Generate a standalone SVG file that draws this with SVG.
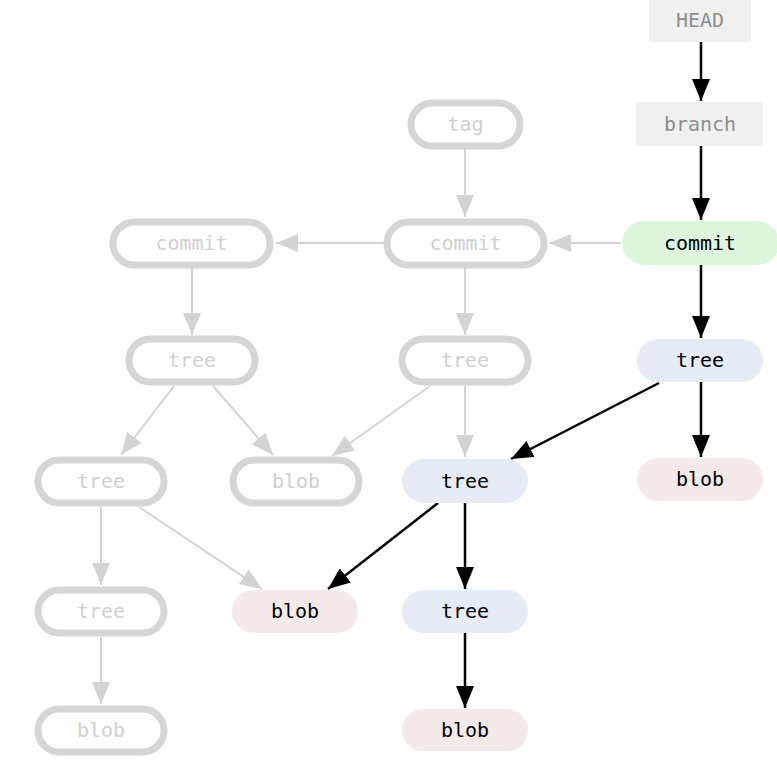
<svg xmlns="http://www.w3.org/2000/svg" width="777" height="771" viewBox="0 0 777 771">
<defs>
<style>
text{font-family:"DejaVu Sans Mono","Liberation Mono",monospace;font-size:20px;text-anchor:middle;dominant-baseline:central}
.ghost rect{fill:#fff;stroke:#d6d6d6;stroke-width:7}
.ghost text{fill:#d0d0d0}
.ref rect{fill:#f0f0f0}
.ref text{fill:#8e8e8e}
.on text{fill:#000}
.green{fill:#def5de}
.blue{fill:#e5ecf6}
.pink{fill:#f5eaea}
.eg{stroke:#d3d3d3;stroke-width:2;fill:none;marker-end:url(#ag)}
.eb{stroke:#000;stroke-width:2.5;fill:none;marker-end:url(#ab)}
</style>
<marker id="ag" markerUnits="userSpaceOnUse" markerWidth="22" markerHeight="18" refX="22" refY="9" orient="auto"><path d="M0,0L22,9L0,18z" fill="#d3d3d3"/></marker>
<marker id="ab" markerUnits="userSpaceOnUse" markerWidth="22" markerHeight="18" refX="22" refY="9" orient="auto"><path d="M0,0L22,9L0,18z" fill="#000"/></marker>
</defs>
<g id="connectors">
<line class="eb" x1="701" y1="42" x2="701" y2="101"/>
<line class="eb" x1="701" y1="146" x2="701" y2="220"/>
<line class="eg" x1="621" y1="243" x2="549" y2="243"/>
<line class="eg" x1="384" y1="243" x2="276" y2="243"/>
<line class="eg" x1="465" y1="149" x2="465" y2="217"/>
<line class="eg" x1="192" y1="267" x2="192" y2="335"/>
<line class="eg" x1="465" y1="267" x2="465" y2="335"/>
<line class="eb" x1="701" y1="265" x2="701" y2="338"/>
<line class="eg" x1="174" y1="386" x2="121" y2="455"/>
<line class="eg" x1="213" y1="386" x2="273" y2="455"/>
<line class="eg" x1="430" y1="386" x2="332" y2="456"/>
<line class="eg" x1="465" y1="386" x2="465" y2="457"/>
<line class="eb" x1="659" y1="383" x2="511" y2="459"/>
<line class="eb" x1="701" y1="382" x2="701" y2="457"/>
<line class="eg" x1="101" y1="507" x2="101" y2="585"/>
<line class="eg" x1="139" y1="507" x2="262" y2="589"/>
<line class="eb" x1="438" y1="503" x2="328" y2="589"/>
<line class="eb" x1="465" y1="503" x2="465" y2="589"/>
<line class="eb" x1="465" y1="633" x2="465" y2="708"/>
<line class="eg" x1="101" y1="637" x2="101" y2="704"/>
</g>
<g id="head" class="ref"><rect x="649" y="0" width="102" height="42"/><text x="700" y="20">HEAD</text></g>
<g id="branch" class="ref"><rect x="636" y="102" width="127" height="44"/><text x="700" y="124">branch</text></g>
<g id="tag" class="ghost"><rect x="411" y="103" width="109" height="43" rx="21.5"/><text x="465.5" y="124">tag</text></g>
<g id="commit3" class="on"><rect class="green" x="622" y="221" width="157" height="44" rx="22"/><text x="700" y="243">commit</text></g>
<g id="commit2" class="ghost"><rect x="387" y="222" width="157" height="43" rx="21.5"/><text x="465.5" y="243">commit</text></g>
<g id="commit1" class="ghost"><rect x="113" y="222" width="157" height="43" rx="21.5"/><text x="191.5" y="243">commit</text></g>
<g id="tree1" class="ghost"><rect x="129" y="339" width="126" height="43" rx="21.5"/><text x="192" y="360">tree</text></g>
<g id="tree2" class="ghost"><rect x="402" y="339" width="126" height="43" rx="21.5"/><text x="465" y="360">tree</text></g>
<g id="tree3" class="on"><rect class="blue" x="637" y="339" width="126" height="43" rx="21.5"/><text x="700" y="360">tree</text></g>
<g id="tree4" class="ghost"><rect x="38" y="460" width="126" height="43" rx="21.5"/><text x="101" y="481">tree</text></g>
<g id="blob1" class="ghost"><rect x="233" y="460" width="126" height="43" rx="21.5"/><text x="296" y="481">blob</text></g>
<g id="tree5" class="on"><rect class="blue" x="402" y="459" width="126" height="44" rx="22"/><text x="465" y="481">tree</text></g>
<g id="blob2" class="on"><rect class="pink" x="637" y="458" width="126" height="43" rx="21.5"/><text x="700" y="479">blob</text></g>
<g id="tree6" class="ghost"><rect x="38" y="590" width="126" height="43" rx="21.5"/><text x="101" y="611">tree</text></g>
<g id="blob3" class="on"><rect class="pink" x="232" y="590" width="126" height="43" rx="21.5"/><text x="295" y="611">blob</text></g>
<g id="tree7" class="on"><rect class="blue" x="402" y="590" width="126" height="43" rx="21.5"/><text x="465" y="611">tree</text></g>
<g id="blob4" class="ghost"><rect x="38" y="709" width="126" height="43" rx="21.5"/><text x="101" y="730">blob</text></g>
<g id="blob5" class="on"><rect class="pink" x="402" y="709" width="126" height="42" rx="21"/><text x="465" y="730">blob</text></g>
</svg>
